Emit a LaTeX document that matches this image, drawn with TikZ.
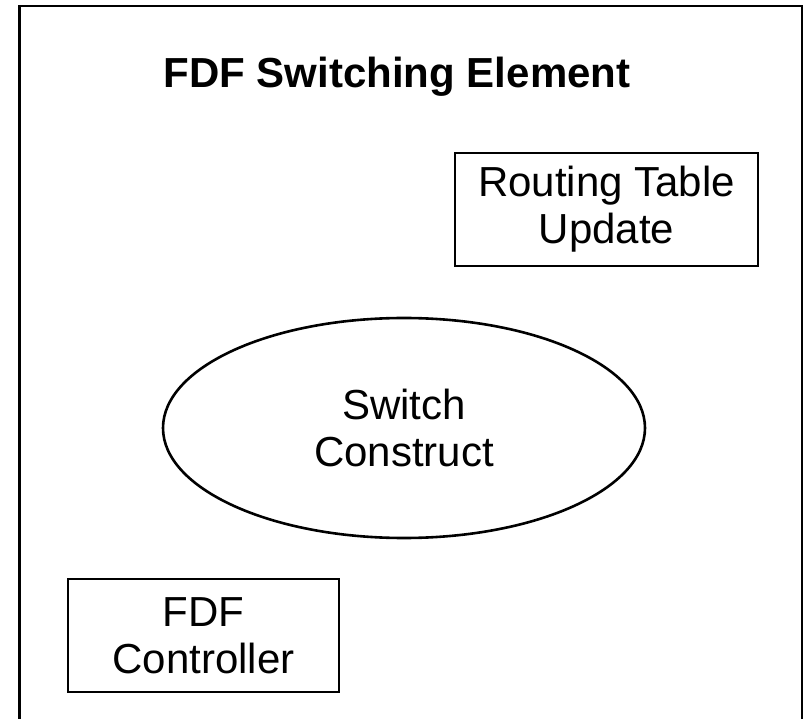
\documentclass[tikz,border=0pt]{standalone}
\usepackage{fontspec}
\setmainfont{Liberation Sans}
\usetikzlibrary{shapes.geometric}

\tikzset{
  partbox/.style={draw, rectangle, line width=2.8pt, align=center, inner sep=0pt},
  partoval/.style={draw, ellipse, line width=2.6pt, align=center, inner sep=0pt},
}

\begin{document}
\begin{tikzpicture}[x=1pt,y=-1pt,font=\fontsize{42}{47}\selectfont]
\useasboundingbox (0,0) rectangle (804,719);
\clip (0,0) rectangle (804,719);
% outer frame, open at the bottom edge of the page
\draw[line width=2.8pt] (19.5,6) rectangle (802,760);
\node[anchor=base] (title) at (397,88) {\bfseries FDF Switching Element};
\node[partbox, minimum width=303pt, minimum height=113pt] (rtu) at (606.5,209.5) {Routing Table\\Update};
\node[partoval, minimum width=482pt, minimum height=220pt] (swc) at (404,428) {Switch\\Construct};
\node[partbox, minimum width=271pt, minimum height=113pt] (ctl) at (203.5,635.5) {FDF\\Controller};
\end{tikzpicture}
\end{document}
